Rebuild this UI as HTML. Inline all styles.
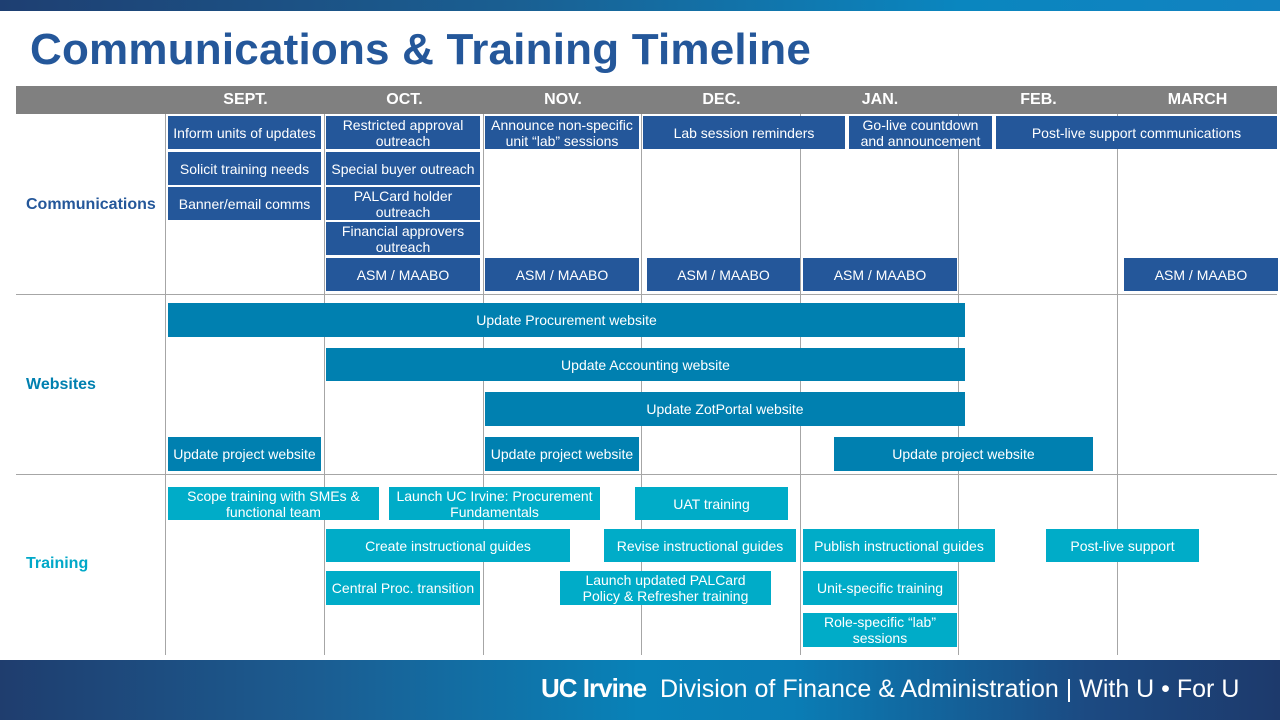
<!DOCTYPE html>
<html><head><meta charset="utf-8"><style>
*{margin:0;padding:0;box-sizing:border-box}
body{width:1280px;height:720px;position:relative;overflow:hidden;background:#fff;font-family:"Liberation Sans",Arial,sans-serif}
.topbar{position:absolute;left:0;top:0;width:1280px;height:11px;background:linear-gradient(90deg,#1e3f72,#1a5f92 40%,#0a86bf 75%,#1282c0)}
.title{position:absolute;left:30px;top:25px;font-size:44px;letter-spacing:0.2px;font-weight:bold;color:#24579a;white-space:nowrap}
.hdr{position:absolute;left:16px;top:86px;width:1261px;height:28px;background:#808080}
.m{position:absolute;top:86px;height:28px;line-height:28px;color:#fff;font-weight:bold;font-size:16px;text-align:center}
.v{position:absolute;top:114px;width:1px;height:541px;background:#a6a6a6}
.h{position:absolute;left:16px;width:1261px;height:1px;background:#a6a6a6}
.b{position:absolute;color:#fff;font-size:14px;line-height:16px;text-align:center;display:flex;align-items:center;justify-content:center}
.c{background:#24579a}.w{background:#0080b0}.t{background:#00acc8}
.lab{position:absolute;left:26px;font-size:16px;font-weight:bold}
.footer{position:absolute;left:0;top:660px;width:1280px;height:60px;background:linear-gradient(90deg,#1f3d6e,#1b5d92 25%,#0882b8 50%,#0a7db5 62%,#1c4a82 85%,#1d3a6c)}
.ft{position:absolute;left:541px;top:673px;color:#fff;font-size:25px;white-space:nowrap}
</style></head><body>
<div class="topbar"></div>
<div class="title">Communications &amp; Training Timeline</div>
<div class="hdr"></div>
<div class="m" style="left:166px;width:159px">SEPT.</div>
<div class="m" style="left:325px;width:159px">OCT.</div>
<div class="m" style="left:484px;width:158px">NOV.</div>
<div class="m" style="left:642px;width:159px">DEC.</div>
<div class="m" style="left:801px;width:158px">JAN.</div>
<div class="m" style="left:959px;width:159px">FEB.</div>
<div class="m" style="left:1118px;width:159px">MARCH</div>
<div class="v" style="left:165px"></div><div class="v" style="left:324px"></div><div class="v" style="left:483px"></div><div class="v" style="left:641px"></div><div class="v" style="left:800px"></div><div class="v" style="left:958px"></div><div class="v" style="left:1117px"></div>
<div class="h" style="top:294px"></div><div class="h" style="top:474px"></div>
<div class="lab" style="top:196px;color:#24579a">Communications</div>
<div class="lab" style="top:376px;color:#0080b0">Websites</div>
<div class="lab" style="top:555px;color:#00a8c8">Training</div>

<div class="b c" style="left:168px;top:116px;width:153px;height:33px">Inform units of updates</div>
<div class="b c" style="left:168px;top:152px;width:153px;height:33px">Solicit training needs</div>
<div class="b c" style="left:168px;top:187px;width:153px;height:33px">Banner/email comms</div>
<div class="b c" style="left:326px;top:116px;width:154px;height:33px">Restricted approval<br>outreach</div>
<div class="b c" style="left:326px;top:152px;width:154px;height:33px">Special buyer outreach</div>
<div class="b c" style="left:326px;top:187px;width:154px;height:33px">PALCard holder<br>outreach</div>
<div class="b c" style="left:326px;top:222px;width:154px;height:33px">Financial approvers<br>outreach</div>
<div class="b c" style="left:326px;top:258px;width:154px;height:33px">ASM / MAABO</div>
<div class="b c" style="left:485px;top:116px;width:154px;height:33px">Announce non-specific<br>unit “lab” sessions</div>
<div class="b c" style="left:485px;top:258px;width:154px;height:33px">ASM / MAABO</div>
<div class="b c" style="left:643px;top:116px;width:202px;height:33px">Lab session reminders</div>
<div class="b c" style="left:647px;top:258px;width:153px;height:33px">ASM / MAABO</div>
<div class="b c" style="left:849px;top:116px;width:143px;height:33px">Go-live countdown<br>and announcement</div>
<div class="b c" style="left:803px;top:258px;width:154px;height:33px">ASM / MAABO</div>
<div class="b c" style="left:996px;top:116px;width:281px;height:33px">Post-live support communications</div>
<div class="b c" style="left:1124px;top:258px;width:154px;height:33px">ASM / MAABO</div>

<div class="b w" style="left:168px;top:303px;width:797px;height:34px">Update Procurement website</div>
<div class="b w" style="left:326px;top:348px;width:639px;height:33px">Update Accounting website</div>
<div class="b w" style="left:485px;top:392px;width:480px;height:34px">Update ZotPortal website</div>
<div class="b w" style="left:168px;top:437px;width:153px;height:34px">Update project website</div>
<div class="b w" style="left:485px;top:437px;width:154px;height:34px">Update project website</div>
<div class="b w" style="left:834px;top:437px;width:259px;height:34px">Update project website</div>

<div class="b t" style="left:168px;top:487px;width:211px;height:33px">Scope training with SMEs &amp;<br>functional team</div>
<div class="b t" style="left:389px;top:487px;width:211px;height:33px">Launch UC Irvine: Procurement<br>Fundamentals</div>
<div class="b t" style="left:635px;top:487px;width:153px;height:33px">UAT training</div>
<div class="b t" style="left:326px;top:529px;width:244px;height:33px">Create instructional guides</div>
<div class="b t" style="left:604px;top:529px;width:192px;height:33px">Revise instructional guides</div>
<div class="b t" style="left:803px;top:529px;width:192px;height:33px">Publish instructional guides</div>
<div class="b t" style="left:1046px;top:529px;width:153px;height:33px">Post-live support</div>
<div class="b t" style="left:326px;top:571px;width:154px;height:34px">Central Proc. transition</div>
<div class="b t" style="left:560px;top:571px;width:211px;height:34px">Launch updated PALCard<br>Policy &amp; Refresher training</div>
<div class="b t" style="left:803px;top:571px;width:154px;height:34px">Unit-specific training</div>
<div class="b t" style="left:803px;top:613px;width:154px;height:34px">Role-specific “lab”<br>sessions</div>

<div class="footer"></div>
<div class="ft"><b style="font-size:26px;letter-spacing:-1px">UC Irvine</b>&nbsp; Division of Finance &amp; Administration | With U • For U</div>
</body></html>
